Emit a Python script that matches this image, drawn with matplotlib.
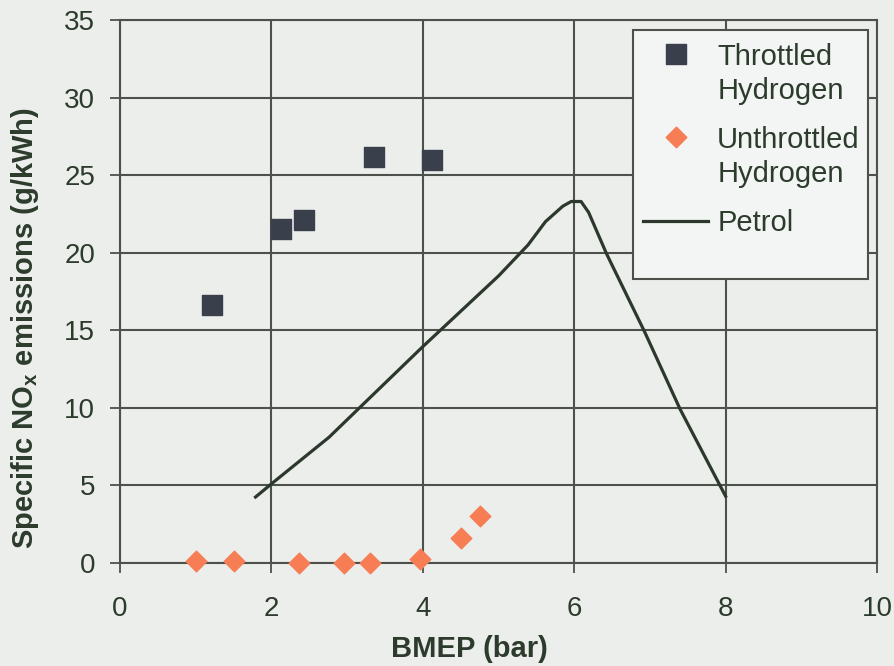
import matplotlib.pyplot as plt
from matplotlib.patches import Rectangle
from matplotlib.legend_handler import HandlerPathCollection

# Throttled hydrogen
throttled_bmep = [1.21, 2.13, 2.43, 3.36, 4.12]
throttled_nox = [16.6, 21.5, 22.1, 26.2, 26.0]

# Unthrottled hydrogen
unthrottled_bmep = [1.01, 1.51, 2.37, 2.96, 3.30, 3.96, 4.50, 4.76]
unthrottled_nox = [0.15, 0.1, 0.0, 0.0, 0.0, 0.25, 1.6, 3.0]

# Petrol
petrol_bmep = [1.79, 2.0, 2.76, 3.99, 5.0, 5.39, 5.62, 5.85, 5.96, 6.09, 6.19, 6.43, 6.93, 7.40, 8.0]
petrol_nox = [4.25, 5.1, 8.1, 13.9, 18.5, 20.5, 22.0, 23.0, 23.3, 23.3, 22.6, 19.9, 14.9, 9.9, 4.3]

bg = '#eceeec'
text_col = '#2c3b2c'
grid_col = '#4c514c'

plt.rcParams['font.family'] = ['Liberation Sans', 'DejaVu Sans']

fig = plt.figure(figsize=(8.95, 6.66), dpi=100, facecolor=bg)
ax = fig.add_axes([0.1341, 0.1547, 0.8458, 0.8153], facecolor=bg)

ax.plot(petrol_bmep, petrol_nox, color='#2d382d', lw=2.3, label='Petrol', zorder=3)
sq = ax.scatter(throttled_bmep, throttled_nox, marker='s', s=190, color='#3a3f4c',
                label='Throttled\nHydrogen', zorder=4)
dm = ax.scatter(unthrottled_bmep, unthrottled_nox, marker='D', s=110, color='#f77d55',
                label='Unthrottled\nHydrogen', zorder=4, clip_on=False)

ax.set_xlim(0, 10)
ax.set_ylim(0, 35)
ax.set_xticks(range(0, 11, 2))
ax.set_yticks(range(0, 36, 5))
ax.grid(True, color=grid_col, lw=1.5)
ax.set_axisbelow(True)
for s in ax.spines.values():
    s.set_color(grid_col)
    s.set_linewidth(1.5)

ax.tick_params(direction='out', length=7, width=1.3, color=grid_col,
               labelsize=20, labelcolor=text_col)
ax.tick_params(axis='y', pad=11)
ax.tick_params(axis='x', pad=17)

ax.set_xlabel('BMEP (bar)', fontsize=21, fontweight='bold', color=text_col)
ax.xaxis.set_label_coords(0.462, -0.133)
ax.set_ylabel('Specific NO$_\\mathregular{x}$ emissions (g/kWh)', fontsize=21,
              fontweight='bold', color=text_col)
ax.yaxis.set_label_coords(-0.104, 0.433)

# legend box
ax.add_patch(Rectangle((0.678, 0.523), 0.31, 0.459, transform=ax.transAxes,
                       facecolor='#f3f4f4', edgecolor=grid_col, lw=1.5, zorder=5))

h, l = ax.get_legend_handles_labels()
order = [1, 2, 0]
leg = ax.legend([h[i] for i in order], [l[i] for i in order], loc='upper left',
                bbox_to_anchor=(0.691, 0.958), fontsize=21, frameon=False,
                handlelength=2.23, handletextpad=0.31, labelspacing=0.7,
                borderpad=0, borderaxespad=0, scatterpoints=1,
                handler_map={sq: HandlerPathCollection(yoffsets=[1.5]),
                             dm: HandlerPathCollection(yoffsets=[1.5])})
leg.set_zorder(6)
for t in leg.get_texts():
    t.set_color(text_col)
    t.set_linespacing(1.3)

fig.savefig('out.png', dpi=100, facecolor=bg)
